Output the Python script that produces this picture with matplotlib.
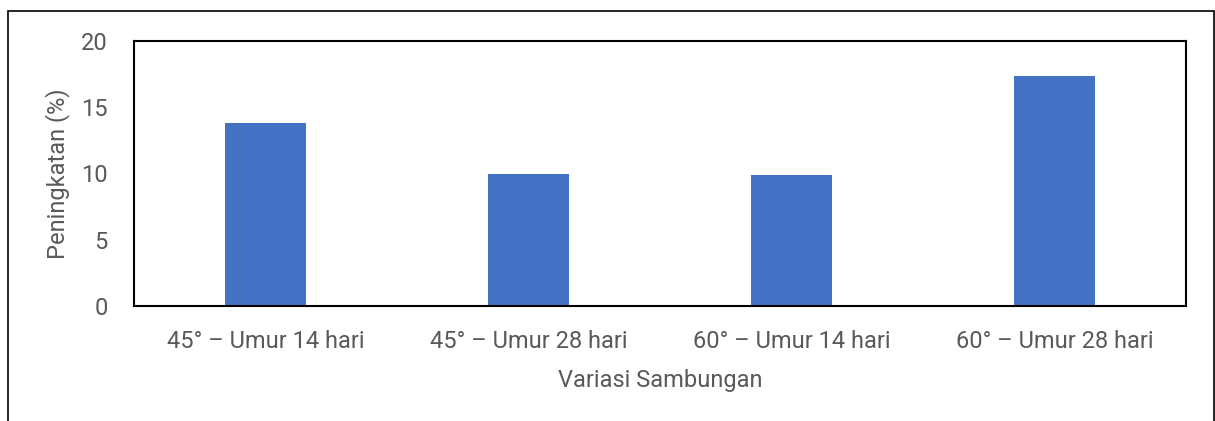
import matplotlib
matplotlib.use("Agg")
import matplotlib.pyplot as plt
from matplotlib.patches import Rectangle

categories = ["45° – Umur 14 hari", "45° – Umur 28 hari", "60° – Umur 14 hari", "60° – Umur 28 hari"]
values = [13.83, 9.96, 9.89, 17.38]
yticks = [0, 5, 10, 15, 20]

plt.rcParams['font.family'] = ['Roboto', 'DejaVu Sans']
grey = '#595959'
fs = 17

fig = plt.figure(figsize=(12.15, 4.21), dpi=100)
ax = fig.add_axes([134/1215, 1 - 306/421, (1186-134)/1215, (306-41)/421])

x = list(range(len(categories)))
ax.bar(x, values, width=0.31, color='#4472C4', zorder=2)
ax.set_xlim(-0.5, len(categories) - 0.5)
ax.set_ylim(0, 20)
ax.set_yticks(yticks)
ax.set_xticks(x)
ax.set_xticklabels(categories)
ax.tick_params(axis='both', length=0, colors=grey, labelsize=fs)
ax.tick_params(axis='x', pad=17)
ax.tick_params(axis='y', pad=19)
for s in ax.spines.values():
    s.set_linewidth(1.5)
    s.set_color('black')
ax.set_ylabel("Peningkatan (%)", color=grey, fontsize=fs, labelpad=8)
ax.set_xlabel("Variasi Sambungan", color=grey, fontsize=fs, labelpad=12)

fig.patches.append(Rectangle((8/1215, -0.1), (1214-8)/1215, 1 - 11/421 + 0.1,
                             transform=fig.transFigure, fill=False,
                             edgecolor='black', linewidth=1.2))

fig.savefig("out.png", dpi=100)
